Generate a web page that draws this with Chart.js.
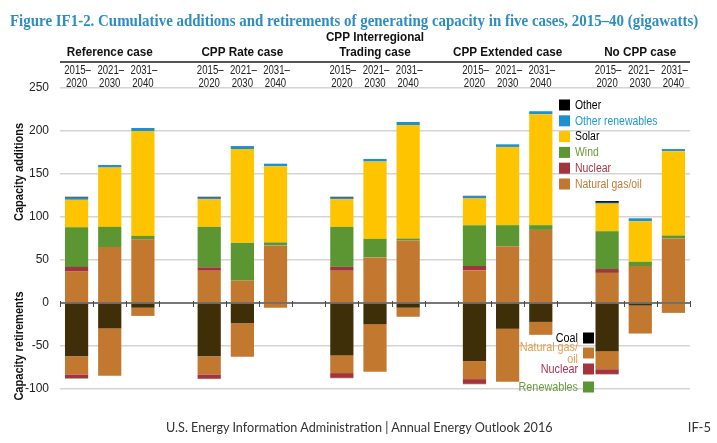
<!DOCTYPE html>
<html><head><meta charset="utf-8">
<script src="https://cdn.jsdelivr.net/npm/chart.js@4"></script>
<style>
html,body{margin:0;padding:0;background:#fff;}
#wrap{position:relative;width:717px;height:443px;overflow:hidden;background:#fff;}
#c{position:absolute;left:0;top:0;}
#title{position:absolute;left:10px;top:12px;font-family:'Liberation Serif','Times New Roman',serif;font-weight:bold;font-size:16px;line-height:18px;color:#2e8cc4;white-space:nowrap;transform-origin:0 0;}
#footer{position:absolute;left:166px;top:419px;font-family:Lato,'Open Sans',sans-serif;font-size:13px;line-height:16px;color:#333;white-space:nowrap;transform-origin:0 0;}
#page{position:absolute;right:6px;top:419px;font-family:Lato,'Open Sans',sans-serif;font-size:13px;line-height:16px;color:#333;}
</style></head>
<body><div id="wrap">
<canvas id="c" width="717" height="443"></canvas>
<div id="title">Figure IF1-2. Cumulative additions and retirements of generating capacity in five cases, 2015–40 (gigawatts)</div>
<div id="footer">U.S. Energy Information Administration | Annual Energy Outlook 2016</div>
<div id="page">IF-5</div>
</div>
<script>
// ---- data ----
const cases = ['Reference case', 'CPP Rate case', ['CPP Interregional', 'Trading case'], 'CPP Extended case', 'No CPP case'];
const periods = [['2015–', '2020'], ['2021–', '2030'], ['2031–', '2040']];

// capacity additions (GW), 15 bars: 5 cases x 3 periods
const addNatGas   = [36.5, 65, 74, 37.5, 26, 67, 37.5, 53, 72.5, 38, 66, 85, 35, 43, 75];
const addNuclear  = [5.5, 0, 0, 4, 0, 0, 4.5, 0, 0, 5, 0, 0, 4.5, 0, 0];
const addWind     = [46, 23.5, 4, 47, 44, 3.5, 46.5, 21.5, 2.5, 47.5, 24.5, 5.5, 44, 5, 3.5];
const addSolar    = [32, 69, 122, 32, 109, 88.5, 32, 90, 132, 31, 91, 129, 32, 47, 98];
const addOtherRen = [2.5, 3, 3.5, 2, 3.5, 3, 2, 3, 3.5, 2.3, 3, 3.5, 1, 3.5, 2.5];
const addOther    = [1, 0, 0, 1, 0, 0, 1, 0, 0, 0.8, 0, 0, 2, 0, 0];

// capacity retirements (GW, negative)
const retCoal     = [-62, -29.5, -5.5, -62, -23.5, 0, -61, -24.5, -5.5, -67.5, -30, -22, -56, -3, 0];
const retNatGas   = [-21, -55, -9.5, -21, -39, -5.5, -20.5, -55.5, -10.5, -21, -61.5, -15, -21, -32.5, -11.5];
const retNuclear  = [-4.5, 0, 0, -5, 0, 0, -5.5, 0, 0, -5.5, 0, 0, -5.5, 0, 0];
const retRenew    = [-0.5, 0, 0, -0.5, 0, 0, -0.5, 0, 0, -0.5, 0, 0, -0.5, 0, 0];

const yTicks = [-100, -50, 0, 50, 100, 150, 200, 250];

// ---- build categories with gaps between cases ----
const labels = [];
const barIndex = [];
cases.forEach((c, ci) => {
  if (ci > 0) { labels.push(''); barIndex.push(null); }
  periods.forEach((p, pi) => { labels.push(p); barIndex.push(ci * 3 + pi); });
});
const expand = arr => barIndex.map(i => i === null ? null : (arr[i] === 0 ? null : arr[i]));

const C = {
  other: '#000000', otherRen: '#1c90d0', solar: '#ffc400', wind: '#5b9632',
  nuclear: '#a3333f', natgas: '#c2782f', coal: '#3f2f08', renew: '#5b9632'
};

const datasets = [
  {label: 'Natural gas/oil', data: expand(addNatGas), backgroundColor: C.natgas},
  {label: 'Nuclear', data: expand(addNuclear), backgroundColor: C.nuclear},
  {label: 'Wind', data: expand(addWind), backgroundColor: C.wind},
  {label: 'Solar', data: expand(addSolar), backgroundColor: C.solar},
  {label: 'Other renewables', data: expand(addOtherRen), backgroundColor: C.otherRen},
  {label: 'Other', data: expand(addOther), backgroundColor: C.other},
  {label: 'Coal', data: expand(retCoal), backgroundColor: C.coal},
  {label: 'Natural gas/oil (retired)', data: expand(retNatGas), backgroundColor: C.natgas},
  {label: 'Nuclear (retired)', data: expand(retNuclear), backgroundColor: C.nuclear},
  {label: 'Renewables', data: expand(retRenew), backgroundColor: C.renew}
].map(d => Object.assign(d, {stack: 's', borderWidth: 0, categoryPercentage: 1, barPercentage: 0.7}));

const SANS = "'Liberation Sans',Arial,sans-serif";

const addLegend = [
  ['Other', C.other, '#000'],
  ['Other renewables', C.otherRen, '#1b9ad6'],
  ['Solar', C.solar, '#000'],
  ['Wind', C.wind, '#6a9a3a'],
  ['Nuclear', C.nuclear, '#a83445'],
  ['Natural gas/oil', C.natgas, '#c07a35']
];
const retLegend = [
  [['Coal'], '#000000', '#000', 338],
  [['Natural gas/', 'oil'], C.natgas, '#e0a050', 353],
  [['Nuclear'], C.nuclear, '#b03050', 369],
  [['Renewables'], C.renew, '#6aa040', 387]
];

function cText(ctx, t, x, y, sx) {
  ctx.save(); ctx.translate(x, y); ctx.scale(sx, 1); ctx.fillText(t, 0, 0); ctx.restore();
}

const decor = {
  id: 'decor',
  afterDatasetsDraw(chart) {
    const ctx = chart.ctx, x = chart.scales.x, y = chart.scales.y, a = chart.chartArea;
    const y0 = y.getPixelForValue(0);
    ctx.save();
    // zero line with ticks
    ctx.strokeStyle = '#4a4a4a'; ctx.lineWidth = 1.5;
    ctx.beginPath(); ctx.moveTo(a.left, y0); ctx.lineTo(a.right, y0); ctx.stroke();
    ctx.lineWidth = 1;
    const n = labels.length;
    for (let k = 0; k <= n; k++) {
      const px = Math.round(a.left + (a.right - a.left) * k / n) + 0.5;
      ctx.beginPath(); ctx.moveTo(px, y0 - 2); ctx.lineTo(px, y0 + 4); ctx.stroke();
    }
    // header line
    ctx.strokeStyle = '#555'; ctx.lineWidth = 2;
    ctx.beginPath(); ctx.moveTo(a.left, 62); ctx.lineTo(a.right, 62); ctx.stroke();
    // year labels (top category axis)
    ctx.fillStyle = '#222'; ctx.font = '12px ' + SANS;
    ctx.textAlign = 'center'; ctx.textBaseline = 'middle';
    labels.forEach((lab, i) => {
      if (!lab) return;
      const cx = x.getPixelForValue(i);
      lab.forEach((t, li) => cText(ctx, t, cx + (li === 0 ? 1 : 0), 71 + li * 12.5, 0.8));
    });
    // case headers
    ctx.fillStyle = '#111'; ctx.font = 'bold 13px ' + SANS;
    cases.forEach((c, ci) => {
      const cx = x.getPixelForValue(ci * 4 + 1);
      const lines = Array.isArray(c) ? c : [c];
      lines.forEach((t, li) => cText(ctx, t, cx, 52 - (lines.length - 1 - li) * 15, 0.9));
    });
    // y axis titles
    ctx.font = 'bold 12px ' + SANS; ctx.fillStyle = '#111';
    [['Capacity additions', 172], ['Capacity retirements', 346]].forEach(([t, cy]) => {
      ctx.save(); ctx.translate(20, cy); ctx.rotate(-Math.PI / 2); ctx.scale(0.92, 1); ctx.fillText(t, 0, 0); ctx.restore();
    });
    // additions legend
    ctx.font = '12px ' + SANS; ctx.textAlign = 'left';
    addLegend.forEach(([t, sq, tc], i) => {
      const cy = 105 + i * 15.8;
      ctx.fillStyle = sq; ctx.fillRect(559, cy - 5.5, 11, 11);
      ctx.fillStyle = tc; cText(ctx, t, 575, cy + 0.5, 0.87);
    });
    // retirements legend
    ctx.textAlign = 'right';
    retLegend.forEach(([lines, sq, tc, cy]) => {
      ctx.fillStyle = sq; ctx.fillRect(583, cy - 5.5, 11, 11);
      ctx.fillStyle = tc;
      lines.forEach((t, li) => cText(ctx, t, 578, cy + (li - (lines.length - 1) / 2) * 12 + 0.5, 0.9));
    });
    ctx.restore();
  }
};

new Chart(document.getElementById('c'), {
  type: 'bar',
  data: {labels, datasets},
  options: {
    responsive: false, animation: false, devicePixelRatio: 1,
    layout: {padding: {top: 0, right: 27, bottom: 54, left: 0}},
    plugins: {legend: {display: false}, tooltip: {enabled: false}},
    scales: {
      x: {
        position: 'top', stacked: true,
        grid: {display: false, drawTicks: false}, border: {display: false},
        ticks: {display: false},
        afterFit: s => { s.height = 88; }
      },
      y: {
        stacked: true, min: -100, max: 250,
        afterBuildTicks: s => { s.ticks = yTicks.map(v => ({value: v})); },
        grid: {color: ctx => ctx.tick && ctx.tick.value === 0 ? 'rgba(0,0,0,0)' : '#d4d4d4', lineWidth: 1.5, drawTicks: false},
        border: {display: false},
        ticks: {padding: 11, color: '#222', font: {family: SANS, size: 12}},
        afterFit: s => { s.width = 60; }
      }
    }
  },
  plugins: [decor]
});

function fit(id, w) {
  const el = document.getElementById(id);
  const s = w / el.offsetWidth;
  el.style.transform = 'scaleX(' + s + ')';
}
fit('title', 688);
fit('footer', 387);
</script>
</body></html>
